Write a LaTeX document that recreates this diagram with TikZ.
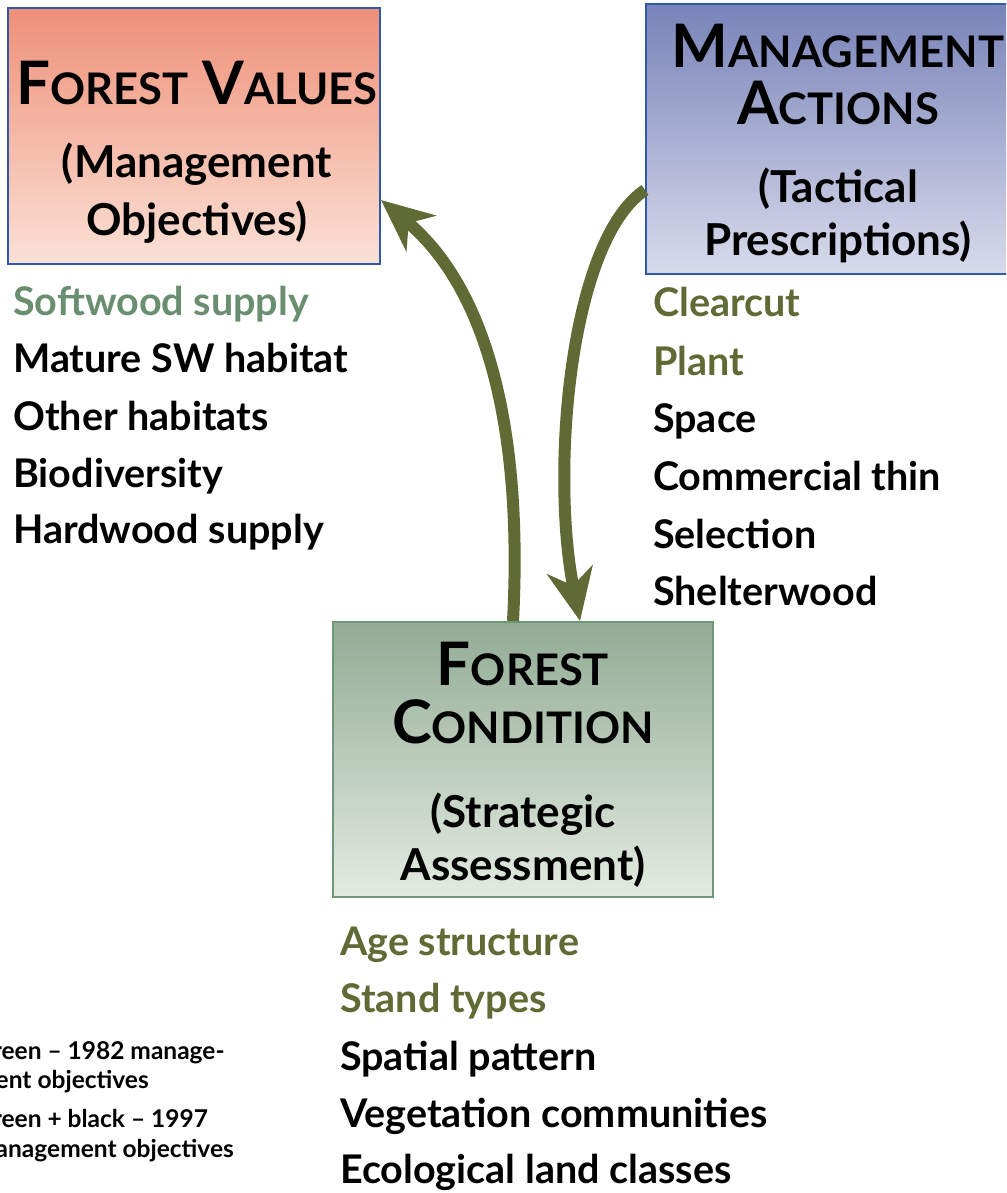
\documentclass[tikz,border=0pt]{standalone}
\usepackage{fontspec}
\setmainfont{Lato}
\usetikzlibrary{arrows.meta}

\definecolor{valtop}{HTML}{EE9078}
\definecolor{valbot}{HTML}{FBE1D6}
\definecolor{acttop}{HTML}{7883B8}
\definecolor{actbot}{HTML}{D9DBEC}
\definecolor{condtop}{HTML}{92AC95}
\definecolor{condbot}{HTML}{E3EBE1}
\definecolor{blueline}{HTML}{3059A8}
\definecolor{greenline}{HTML}{6E9877}
\definecolor{sagetext}{HTML}{6A8F70}
\definecolor{olive}{HTML}{5F6A35}

% big first letter, smaller capitals after it
\newcommand\capword[2]{{\fontsize{60}{60}\selectfont #1}{\fontsize{43.5}{43.5}\selectfont #2}}

\tikzset{
  box/.style={draw, line width=2pt, inner sep=0},
  ttl/.style={anchor=base, inner sep=0, font=\bfseries},
  sub/.style={anchor=base, inner sep=0, font=\bfseries\fontsize{44}{44}\selectfont},
  item/.style={anchor=base west, inner sep=0, font=\bfseries\fontsize{39.5}{39.5}\selectfont},
  legend/.style={anchor=base west, inner sep=0, font=\bfseries\fontsize{24.5}{24.5}\selectfont},
  feedback/.style={line width=12pt, draw=olive, -{Stealth[length=52pt,width=46pt,inset=16pt]}}
}

\begin{document}
\begin{tikzpicture}[x=1pt,y=-1pt]
\useasboundingbox (0,0) rectangle (1006,1193);
\clip (0,0) rectangle (1006,1193);

% the three boxes
\node[box, draw=blueline, top color=valtop, bottom color=valbot,
  minimum width=372pt, minimum height=256pt] (values) at (194,136) {};
\node[box, draw=blueline, top color=acttop, bottom color=actbot,
  minimum width=384pt, minimum height=270pt] (actions) at (838,139) {};
\node[box, draw=greenline, top color=condtop, bottom color=condbot,
  minimum width=380pt, minimum height=275pt] (cond) at (523,759.5) {};

% box titles
\node[ttl] (valttl) at (197,105) {\capword{F}{OREST}\hspace{14pt}\capword{V}{ALUES}};
\node[sub] (valsub1) at (197,178) {(Management};
\node[sub] (valsub2) at (197,235) {Objectives)};

\node[ttl] (actttl1) at (838,68) {\capword{M}{ANAGEMENT}};
\node[ttl] (actttl2) at (838,125) {\capword{A}{CTIONS}};
\node[sub] (actsub1) at (838,203) {(Tactical};
\node[sub] (actsub2) at (838,255) {Prescriptions)};

\node[ttl] (condttl1) at (523,685) {\capword{F}{OREST}};
\node[ttl] (condttl2) at (523,743) {\capword{C}{ONDITION}};
\node[sub] (condsub1) at (523,827) {(Strategic};
\node[sub] (condsub2) at (523,880) {Assessment)};

% forest values
\node[item, sagetext] (softwood) at (13,315) {Softwood supply};
\node[item] (maturesw) at (13,372) {Mature SW habitat};
\node[item] (otherhab) at (13,430) {Other habitats};
\node[item] (biodiv) at (13,487) {Biodiversity};
\node[item] (hardwood) at (13,543) {Hardwood supply};

% management actions
\node[item, olive] (clearcut) at (653,316) {Clearcut};
\node[item, olive] (plant) at (653,375) {Plant};
\node[item] (space) at (653,432) {Space};
\node[item] (comthin) at (653,490) {Commercial thin};
\node[item] (selection) at (653,548) {Selection};
\node[item] (shelter) at (653,605) {Shelterwood};

% forest condition
\node[item, olive] (agestr) at (340,955) {Age structure};
\node[item, olive] (standtp) at (340,1012) {Stand types};
\node[item] (spatial) at (340,1070) {Spatial pattern};
\node[item] (vegcom) at (340,1127) {Vegetation communities};
\node[item] (ecoland) at (340,1183) {Ecological land classes};

% legend
\node[legend] (leg1) at (-25,1059) {Green -- 1982 manage-};
\node[legend] (leg2) at (-25,1088) {ment objectives};
\node[legend] (leg3) at (-25,1127) {Green + black -- 1997};
\node[legend] (leg4) at (-25,1157) {management objectives};

% the two arrows
\coordinate (upfrom) at ([xshift=-10pt]cond.north);
\coordinate (upto) at ([yshift=-64pt]values.east);
\coordinate (downfrom) at ([yshift=-51pt]actions.west);
\coordinate (downto) at ([xshift=57pt]cond.north);
\draw[feedback] (upfrom) .. controls (522,450) and (495,295) .. (upto);
\draw[feedback] (downfrom) .. controls (570,240) and (550,470) .. (downto);
\end{tikzpicture}
\end{document}
